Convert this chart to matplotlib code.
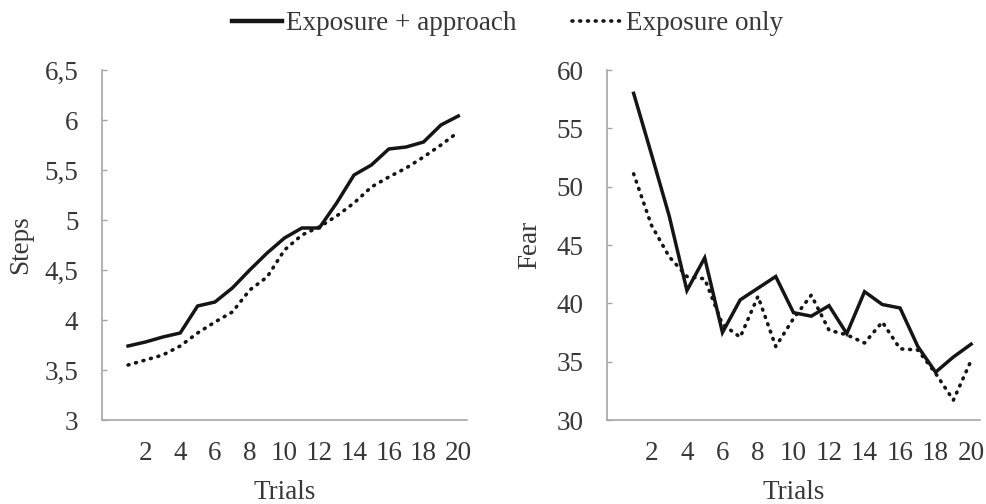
import matplotlib
matplotlib.use("Agg")
import matplotlib.pyplot as plt
from matplotlib.lines import Line2D

plt.rcParams["font.family"] = "serif"
plt.rcParams["font.serif"] = ["Liberation Serif", "DejaVu Serif"]

# data
trials = list(range(1, 21))
steps_approach = [3.74, 3.78, 3.83, 3.87, 4.14, 4.18, 4.32, 4.50, 4.67, 4.82,
                  4.92, 4.92, 5.17, 5.45, 5.55, 5.71, 5.73, 5.78, 5.95, 6.04]
steps_exposure = [3.55, 3.60, 3.65, 3.74, 3.87, 3.98, 4.08, 4.30, 4.43, 4.70,
                  4.85, 4.93, 5.04, 5.17, 5.33, 5.43, 5.52, 5.63, 5.75, 5.88]
fear_approach = [58.0, 52.8, 47.5, 41.1, 43.9, 37.5, 40.3, 41.3, 42.3, 39.2,
                 38.9, 39.8, 37.4, 41.0, 39.9, 39.6, 36.3, 34.1, 35.4, 36.5]
fear_exposure = [51.1, 46.7, 44.0, 42.3, 42.1, 38.2, 37.1, 40.6, 36.3, 38.7,
                 40.7, 37.7, 37.3, 36.6, 38.4, 36.1, 36.0, 34.0, 31.7, 35.1]

x_ticks = [2, 4, 6, 8, 10, 12, 14, 16, 18, 20]
steps_ticks = [3, 3.5, 4, 4.5, 5, 5.5, 6, 6.5]
steps_ticklabels = ["3", "3,5", "4", "4,5", "5", "5,5", "6", "6,5"]
fear_ticks = [30, 35, 40, 45, 50, 55, 60]

text_col = "#383838"
axis_col = "#a6a6a6"
line_col = "#151515"
dot_style = (0, (0.25, 1.9))
fs = 19.5

fig = plt.figure(figsize=(9.86, 5.04), dpi=100)
ax1 = fig.add_axes([102 / 986, 84 / 504, 365 / 986, 350 / 504])
ax2 = fig.add_axes([607 / 986, 84 / 504, 373 / 986, 350 / 504])


def style_axes(ax, ylabel):
    for s in ["top", "right"]:
        ax.spines[s].set_visible(False)
    for s in ["left", "bottom"]:
        ax.spines[s].set_color(axis_col)
        ax.spines[s].set_linewidth(1.2)
    ax.set_xlim(-0.5, 20.5)
    ax.set_xticks(x_ticks)
    ax.tick_params(axis="x", length=0, pad=15, labelsize=fs, labelcolor=text_col)
    ax.tick_params(axis="y", direction="in", length=3.6, width=1.0, color=axis_col,
                   pad=17, labelsize=fs, labelcolor=text_col)
    ax.set_xlabel("Trials", fontsize=fs, color=text_col, labelpad=10)
    ax.set_ylabel(ylabel, fontsize=fs, color=text_col)


ax1.plot(trials, steps_approach, color=line_col, lw=2.5, solid_joinstyle="miter")
ax1.plot(trials, steps_exposure, color=line_col, lw=2.6, linestyle=dot_style,
         dash_capstyle="round")
ax1.set_ylim(3, 6.5)
ax1.set_yticks(steps_ticks)
ax1.set_yticklabels(steps_ticklabels)
style_axes(ax1, "Steps")
ax1.yaxis.set_label_coords(-0.19, 0.5)

ax2.plot(trials, fear_approach, color=line_col, lw=2.5, solid_joinstyle="miter")
ax2.plot(trials, fear_exposure, color=line_col, lw=2.6, linestyle=dot_style,
         dash_capstyle="round")
ax2.set_ylim(30, 60)
ax2.set_yticks(fear_ticks)
style_axes(ax2, "Fear")
ax2.yaxis.set_label_coords(-0.174, 0.5)

handles = [Line2D([], [], color=line_col, lw=3.2),
           Line2D([], [], color=line_col, lw=2.6, linestyle=dot_style, dash_capstyle="round")]
fig.legend(handles, ["Exposure + approach", "Exposure only"], loc="center",
           bbox_to_anchor=(0.515, 0.953), ncol=2, frameon=False, fontsize=fs,
           handlelength=1.85, handletextpad=0.15, columnspacing=2.05, labelcolor=text_col)

fig.savefig("out.png", dpi=100)
